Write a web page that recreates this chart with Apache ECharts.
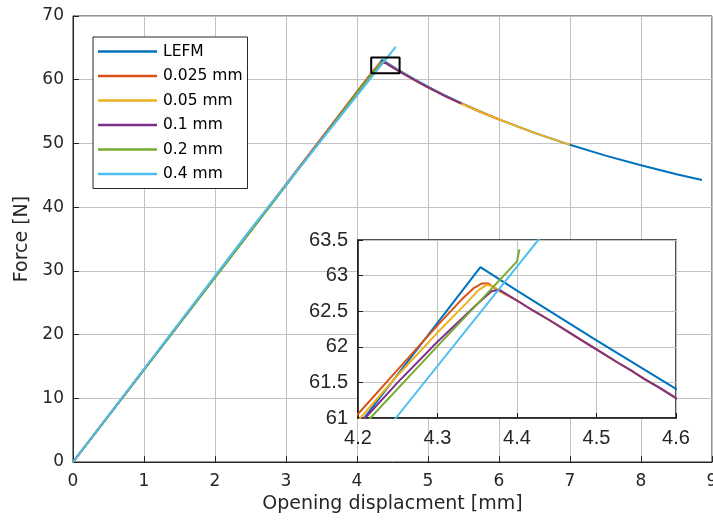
<!DOCTYPE html>
<html>
<head>
<meta charset="utf-8">
<script src="https://cdn.jsdelivr.net/npm/echarts@6/dist/echarts.min.js"></script>
<style>html,body{margin:0;padding:0;background:#fff}#c{width:713px;height:524px}</style>
</head>
<body>
<div id="c"></div>
<script>
// ---- data ----
const seriesNames = ['LEFM', '0.025 mm', '0.05 mm', '0.1 mm', '0.2 mm', '0.4 mm'];
const mainXTicks = [0, 9, 1];
const mainYTicks = [0, 70, 10];
const insetXRange = [4.2, 4.6, 0.1];
const insetYRange = [61, 63.5, 0.5];

const lefm = [[0,0],[4.354,63.12],[4.4,62.79],[4.5,62.09],[4.6,61.41],[4.8,60.12],[5.0,58.90],[5.25,57.48],[5.5,56.16],[5.75,54.93],[6.0,53.77],[6.5,51.66],[7.0,49.78],[7.5,48.09],[8.0,46.57],[8.5,45.17],[8.86,44.25]];

const orangeRise = [[0,0],[4.2,61.056],[4.25,61.68],[4.30,62.30],[4.33,62.66],[4.345,62.82],[4.356,62.89],[4.364,62.89],[4.375,62.80]];
const yellowRise = [[0,0],[4.2029,61.0],[4.25,61.60],[4.30,62.20],[4.335,62.60],[4.352,62.80],[4.362,62.87],[4.370,62.85],[4.378,62.79]];
const purpleRise = [[0,0],[4.209,61.0],[4.25,61.50],[4.30,62.07],[4.35,62.60],[4.368,62.78],[4.378,62.80]];
const softDescent = [[4.40,62.65],[4.42,62.51],[4.44,62.38],[4.463,62.22],[4.48,62.10],[4.505,61.93],[4.525,61.79],[4.546,61.65],[4.56,61.55],[4.58,61.42],[4.6,61.28],[4.8,60.00],[5.0,58.80],[5.25,57.40],[5.47,56.24]];
const orangeTail = [[5.75,54.90],[6.0,53.75]];
const yellowTail = [[5.75,54.90],[6.0,53.75],[6.5,51.65],[7.0,49.77]];
const green = [[0,0],[4.2155,61.0],[4.30,62.01],[4.35,62.60],[4.40,63.20],[4.403,63.37]];
const cyan = [[0,0],[2.5,36.5],[4.2477,61.0],[4.545,65.15]];

const colors = ['#0072BD', '#D95319', '#EDB120', '#7E2F8E', '#77AC30', '#4DBEEE'];

// ---- build ----
const curves = [
  lefm,
  orangeRise.concat(softDescent, orangeTail),
  yellowRise.concat(softDescent, yellowTail),
  purpleRise.concat(softDescent),
  green,
  cyan
];
const zoomBox = [
  [insetXRange[0], insetYRange[0]], [insetXRange[1], insetYRange[0]],
  [insetXRange[1], insetYRange[1]], [insetXRange[0], insetYRange[1]],
  [insetXRange[0], insetYRange[0]]
];

const mainFont = 'DejaVu Sans';
const insetFont = 'Liberation Sans';
const axisCol = '#262626';
const gridCol = '#c2c2c2';

const series = [];
curves.forEach((d, i) => {
  series.push({
    name: seriesNames[i], type: 'line', data: d, xAxisIndex: 0, yAxisIndex: 0,
    showSymbol: false, symbol: 'none', smooth: false, z: 2,
    lineStyle: { color: colors[i], width: 2 }, itemStyle: { color: colors[i] }
  });
});
curves.forEach((d, i) => {
  series.push({
    name: seriesNames[i], type: 'line', data: d, xAxisIndex: 1, yAxisIndex: 1,
    showSymbol: false, symbol: 'none', smooth: false, z: 6, clip: true,
    lineStyle: { color: colors[i], width: 2 }, itemStyle: { color: colors[i] }
  });
});
series.push({
  name: 'zoombox', type: 'line', data: zoomBox, xAxisIndex: 0, yAxisIndex: 0,
  showSymbol: false, symbol: 'none', z: 10,
  lineStyle: { color: '#000', width: 2 }
});

const chart = echarts.init(document.getElementById('c'), null, { renderer: 'canvas' });
chart.setOption({
  animation: false,
  backgroundColor: '#fff',
  color: colors,
  grid: [
    { left: 73, right: 1, top: 16, bottom: 62, show: true, borderColor: axisCol, borderWidth: 1, backgroundColor: 'transparent', z: 0, containLabel: false, outerBoundsMode: 'none' },
    { left: 358, top: 240, width: 318, height: 178, show: true, borderColor: '#1a1a1a', borderWidth: 1.5, backgroundColor: '#ffffff', z: 3, containLabel: false, outerBoundsMode: 'none' }
  ],
  legend: {
    data: seriesNames,
    orient: 'vertical', left: 93, top: 37,
    padding: [4.5, 5, 4.5, 5],
    itemGap: 4.5, itemWidth: 59, itemHeight: 2.5, icon: 'rect',
    borderColor: axisCol, borderWidth: 1, backgroundColor: '#fff',
    textStyle: { fontFamily: mainFont, fontSize: 15.5, color: '#000', lineHeight: 20, padding: [0,0,0,1] }
  },
  xAxis: [
    {
      type: 'value', gridIndex: 0, min: mainXTicks[0], max: mainXTicks[1], interval: mainXTicks[2],
      name: 'Opening displacment [mm]', nameLocation: 'middle', nameGap: 28,
      nameTextStyle: { fontFamily: mainFont, fontSize: 19, color: axisCol },
      axisLine: { show: true, onZero: false, lineStyle: { color: axisCol, width: 1 } },
      axisTick: { show: true, inside: true, length: 6, lineStyle: { color: axisCol } },
      axisLabel: { fontFamily: mainFont, fontSize: 17, color: axisCol, margin: 11 },
      splitLine: { show: true, lineStyle: { color: gridCol, width: 1 } }
    },
    {
      type: 'value', gridIndex: 1, min: insetXRange[0], max: insetXRange[1], interval: insetXRange[2], z: 4,
      axisLine: { show: true, onZero: false, lineStyle: { color: '#1a1a1a', width: 1.5 } },
      axisTick: { show: true, inside: true, length: 5, lineStyle: { color: '#1a1a1a' } },
      axisLabel: { fontFamily: insetFont, fontSize: 20, color: axisCol, margin: 10,
        formatter: v => (Math.round(v * 10) / 10).toString() },
      splitLine: { show: true, lineStyle: { color: gridCol, width: 1 } }
    }
  ],
  yAxis: [
    {
      type: 'value', gridIndex: 0, min: mainYTicks[0], max: mainYTicks[1], interval: mainYTicks[2],
      name: 'Force [N]', nameLocation: 'middle', nameGap: 37,
      nameTextStyle: { fontFamily: mainFont, fontSize: 19, color: axisCol },
      axisLine: { show: true, onZero: false, lineStyle: { color: axisCol, width: 1 } },
      axisTick: { show: true, inside: true, length: 6, lineStyle: { color: axisCol } },
      axisLabel: { fontFamily: mainFont, fontSize: 17, color: axisCol, margin: 9 },
      splitLine: { show: true, lineStyle: { color: gridCol, width: 1 } }
    },
    {
      type: 'value', gridIndex: 1, min: insetYRange[0], max: insetYRange[1], interval: insetYRange[2], z: 4,
      axisLine: { show: true, onZero: false, lineStyle: { color: '#1a1a1a', width: 1.5 } },
      axisTick: { show: true, inside: true, length: 5, lineStyle: { color: '#1a1a1a' } },
      axisLabel: { fontFamily: insetFont, fontSize: 20, color: axisCol, margin: 10,
        formatter: v => (Math.round(v * 10) / 10).toString() },
      splitLine: { show: true, lineStyle: { color: gridCol, width: 1 } }
    }
  ],
  series: series
});
</script>
</body>
</html>
